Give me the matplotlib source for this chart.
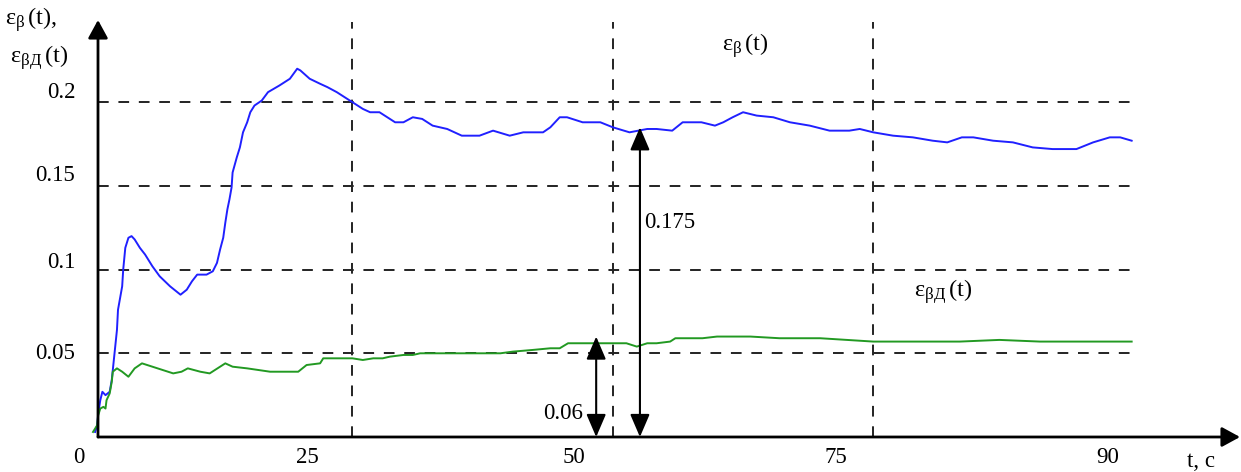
import numpy as np
import matplotlib.pyplot as plt

plt.rcParams['font.family'] = ['Liberation Serif', 'DejaVu Serif']
plt.rcParams['mathtext.fontset'] = 'custom'
plt.rcParams['mathtext.rm'] = 'Liberation Serif'
plt.rcParams['mathtext.it'] = 'Liberation Serif'

# --- data ---
t_beta = [0.3, 0.5, 0.6, 0.8, 1.0, 1.3, 1.5, 1.7, 1.9, 2.0, 2.2, 2.4, 2.5, 2.9, 3.0, 3.2, 3.5, 3.8,
          4.1, 4.6, 5.1, 5.8, 6.5, 7.5, 8.5, 9.1, 9.6, 10.1, 11.0, 11.6, 12.0, 12.3, 12.6, 12.8,
          13.0, 13.2, 13.4, 13.5, 13.9, 14.2, 14.5, 14.9, 15.2, 15.6, 16.3, 16.9, 18.0, 19.0,
          19.7, 20.0, 20.9, 21.9, 22.6, 23.5, 25.0, 26.0, 26.7, 27.6, 29.1, 29.9, 30.8, 31.7,
          32.7, 34.1, 35.5, 37.2, 38.5, 40.1, 41.4, 43.3, 44.0, 44.9, 45.6, 47.1, 48.8, 50.0,
          51.6, 53.3, 54.2, 55.7, 56.7, 58.5, 59.8, 60.6, 61.5, 62.5, 63.8, 65.4, 67.0, 68.9,
          70.8, 72.7, 73.7, 75.0, 76.9, 78.8, 80.7, 82.1, 83.5, 84.6, 86.5, 88.4, 90.3, 92.2,
          94.5, 96.1, 97.7, 98.7, 99.8]
eps_beta = [0.003, 0.007, 0.014, 0.022, 0.027, 0.025, 0.026, 0.027, 0.034, 0.040, 0.052, 0.064,
            0.076, 0.090, 0.100, 0.113, 0.119, 0.120, 0.118, 0.113, 0.109, 0.102, 0.096, 0.090,
            0.085, 0.088, 0.093, 0.097, 0.097, 0.099, 0.104, 0.112, 0.119, 0.128, 0.136, 0.142,
            0.149, 0.158, 0.167, 0.173, 0.182, 0.188, 0.194, 0.198, 0.201, 0.206, 0.210, 0.214,
            0.220, 0.219, 0.214, 0.211, 0.209, 0.206, 0.200, 0.196, 0.194, 0.194, 0.188, 0.188,
            0.191, 0.190, 0.186, 0.184, 0.180, 0.180, 0.183, 0.180, 0.182, 0.182, 0.185, 0.191,
            0.191, 0.188, 0.188, 0.185, 0.182, 0.184, 0.184, 0.183, 0.188, 0.188, 0.186, 0.188,
            0.191, 0.194, 0.192, 0.191, 0.188, 0.186, 0.183, 0.183, 0.184, 0.182, 0.180, 0.179,
            0.177, 0.176, 0.179, 0.179, 0.177, 0.176, 0.173, 0.172, 0.172, 0.176, 0.179, 0.179,
            0.177]

t_beta_d = [0.1, 0.5, 0.6, 0.8, 1.1, 1.3, 1.4, 1.7, 1.9, 2.0, 2.4, 2.9, 3.5, 4.1, 4.8, 5.3, 6.3,
            7.8, 8.6, 9.2, 10.4, 11.3, 12.3, 12.8, 13.5, 14.9, 17.1, 19.0, 19.8, 20.6, 21.9,
            22.2, 22.8, 25.0, 26.0, 27.0, 27.9, 28.6, 29.9, 30.8, 31.5, 32.2, 33.4, 36.3, 39.2,
            40.4, 42.3, 44.0, 44.9, 45.7, 46.6, 47.8, 49.0, 50.4, 51.3, 52.3, 53.3, 54.2, 55.5,
            56.0, 57.1, 58.1, 58.6, 60.0, 60.9, 62.2, 63.2, 66.0, 69.9, 75.0, 79.5, 83.3, 87.1,
            91.0, 94.8, 99.8]
eps_beta_d = [0.003, 0.007, 0.013, 0.017, 0.018, 0.017, 0.022, 0.026, 0.033, 0.039, 0.041, 0.039,
              0.036, 0.041, 0.044, 0.043, 0.041, 0.038, 0.039, 0.041, 0.039, 0.038, 0.042, 0.044,
              0.042, 0.041, 0.039, 0.039, 0.039, 0.043, 0.044, 0.047, 0.047, 0.047, 0.046, 0.047,
              0.047, 0.048, 0.049, 0.049, 0.050, 0.050, 0.050, 0.050, 0.050, 0.051, 0.052, 0.053,
              0.053, 0.056, 0.056, 0.056, 0.056, 0.056, 0.056, 0.054, 0.056, 0.056, 0.057, 0.059,
              0.059, 0.059, 0.059, 0.060, 0.060, 0.060, 0.060, 0.059, 0.059, 0.057, 0.057, 0.057,
              0.058, 0.057, 0.057, 0.057]

y_grid = [0.05, 0.1, 0.15, 0.2]
t_grid = [25, 50, 75]
x_tick_pos = [-1.3, 20.7, 46.3, 71.4, 97.5]
x_tick_labels = ['0', '25', '50', '75', '90']
y_tick_pos = [0.2055, 0.156, 0.1045, 0.050]
y_tick_labels = ['0.2', '0.15', '0.1', '0.05']

# measured levels shown by the arrows
meas_t = [48.4, 52.6]
meas_val = [0.06, 0.185]
meas_text = ['0.06', '0.175']

t_min, t_max = 0.58, 110.2
y_max = 0.2491

fig = plt.figure(figsize=(12.41, 4.72), dpi=100)
ax = fig.add_axes([98 / 1241, 35 / 472, 1142 / 1241, 417 / 472])
ax.set_xlim(t_min, t_max)
ax.set_ylim(0, y_max)
for s in ax.spines.values():
    s.set_visible(False)
ax.set_xticks([])
ax.set_yticks([])

# dashed grid
grid_kw = dict(color='#222222', lw=1.4, linestyles=(0, (5.5, 5)))
ax.hlines(y_grid, t_min, 99.8, **grid_kw)
ax.vlines(t_grid, 0, 0.2479, **grid_kw)

# curves
ax.plot(t_beta, eps_beta, color='#2020ff', lw=1.4, clip_on=False)
ax.plot(t_beta_d, eps_beta_d, color='#229922', lw=1.4, clip_on=False)

# axes with arrow heads
head = '-|>,head_length=0.55,head_width=0.3'
for end in [(1, 0), (0, 1)]:
    ax.annotate('', xy=end, xytext=(0, 0), xycoords='axes fraction',
                arrowprops=dict(arrowstyle=head, mutation_scale=20, lw=2, color='k',
                                shrinkA=0, shrinkB=0), annotation_clip=False)

# measurement arrows
for tm, v in zip(meas_t, meas_val):
    ax.annotate('', xy=(tm, v), xytext=(tm, 0),
                arrowprops=dict(arrowstyle='<|-|>,head_length=0.7,head_width=0.3',
                                mutation_scale=20, lw=1.5, color='k',
                                shrinkA=0, shrinkB=0), annotation_clip=False)

fs = 16.5
ax.text(45.2, 0.0143, meas_text[0], fontsize=fs, ha='center', va='center')
ax.text(53.0, 0.128, meas_text[1], fontsize=fs, ha='left', va='center')

# tick labels
for xp, lab in zip(x_tick_pos, x_tick_labels):
    ax.text(xp, -0.012, lab, fontsize=fs, ha='center', va='center', clip_on=False)
ax.text(106.5, -0.0145, 't, c', fontsize=fs, ha='center', va='center', clip_on=False)
for yp, lab in zip(y_tick_pos, y_tick_labels):
    ax.text(-1.6, yp, lab, fontsize=fs, ha='right', va='center', clip_on=False)

# curve labels
lab_b = r'$\mathrm{ε}_{\mathrm{β}}\,\mathrm{(t)}$'
lab_bd = r'$\mathrm{ε}_{\mathrm{βД}}\,\mathrm{(t)}$'
ax.text(62.7, 0.234, lab_b, fontsize=fs + 1, ha='center', va='center')
ax.text(81.7, 0.0866, lab_bd, fontsize=fs + 1, ha='center', va='center')

# axis title
fig.text(5 / 1241, 1 - 20 / 472, r'$\mathrm{ε}_{\mathrm{β}}\,\mathrm{(t),}$', fontsize=fs + 1,
         ha='left', va='center')
fig.text(10 / 1241, 1 - 58 / 472, lab_bd, fontsize=fs + 1, ha='left', va='center')

fig.savefig('out.png', dpi=100)
